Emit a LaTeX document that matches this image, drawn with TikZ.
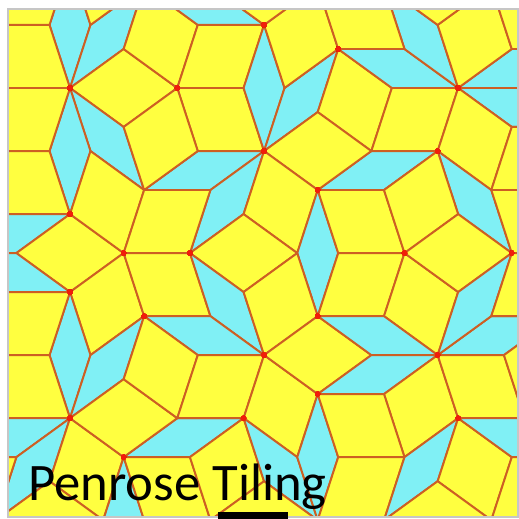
\documentclass[tikz,border=0pt]{standalone}
\usepackage{fontspec}
\newfontfamily\captionfont{Carlito}
\definecolor{tileyellow}{RGB}{255,255,64}
\definecolor{tilecyan}{RGB}{128,240,245}
\definecolor{tileedge}{RGB}{205,95,35}
\definecolor{vertexred}{RGB}{240,30,10}
\tikzset{
    fat tile/.style={fill=tileyellow,draw=tileedge,line width=1.1pt,line join=round},
    thin tile/.style={fill=tilecyan,draw=tileedge,line width=1.1pt,line join=round},
    star point/.style={fill=vertexred},
    caption/.style={anchor=base west,font=\captionfont\fontsize{30}{36}\selectfont}
}
\newcommand{\edgelen}{66.3}
\newcommand{\rhomb}[4]{\filldraw[#1 tile] (#2) -- ++(#3:\edgelen) -- ++(#4:\edgelen) -- ++(#3+180:\edgelen) -- cycle;}

\begin{document}
\begin{tikzpicture}[x=0.02cm,y=0.02cm]
\useasboundingbox (0,0) rectangle (518,-519);
\coordinate (A) at (70,-88);
\path (A) ++(36:\edgelen) coordinate (P) ++(-36:\edgelen) coordinate (Q)
          ++(72:\edgelen) coordinate (W) ++(0:\edgelen) coordinate (B1);
\path (A) ++(-36:\edgelen) coordinate (R);
\path (A) ++(72:\edgelen) coordinate (S);
\path (A) ++(108:\edgelen) coordinate (T);
\path (Q) ++(-72:\edgelen) coordinate (V) ++(0:\edgelen) coordinate (C);
\path (C) ++(36:\edgelen) coordinate (Cb) ++(72:\edgelen) coordinate (D)
          ++(0:\edgelen) coordinate (D0) ++(-36:\edgelen) coordinate (E);
\path (D) ++(-36:\edgelen) coordinate (D9);
\path (E) ++(36:\edgelen) coordinate (E1);
\path (E) ++(108:\edgelen) coordinate (E3);
\path (E) ++(-36:\edgelen) coordinate (E9);
\path (E) ++(-108:\edgelen) coordinate (F) ++(-36:\edgelen) coordinate (F9);
\path (Cb) ++(-36:\edgelen) coordinate (U);
\path (C) ++(-36:\edgelen) coordinate (C9) ++(-72:\edgelen) ++(0:\edgelen) coordinate (I)
          ++(36:\edgelen) ++(-36:\edgelen) coordinate (J);
\path (C) ++(-108:\edgelen) coordinate (C7) ++(-36:\edgelen) coordinate (C79);
\path (C) ++(-144:\edgelen) ++(-108:\edgelen) coordinate (C67);
\path (A) ++(-108:\edgelen) ++(-72:\edgelen) coordinate (G) ++(-36:\edgelen) coordinate (G9)
          ++(-72:\edgelen) coordinate (X0) ++(0:\edgelen) coordinate (X1) ++(-36:\edgelen) coordinate (N);
\path (G) ++(-144:\edgelen) ++(-36:\edgelen) coordinate (H)
          ++(-108:\edgelen) ++(-72:\edgelen) coordinate (K);
\path (K) ++(36:\edgelen) coordinate (K1);
\path (K) ++(-36:\edgelen) coordinate (M) ++(0:\edgelen) coordinate (M0);
\path (K) ++(-144:\edgelen) coordinate (Z);
\path (K) ++(-108:\edgelen) coordinate (K7);
\path (N) ++(180:\edgelen) coordinate (N5);
\path (N) ++(36:\edgelen) coordinate (N1) ++(-36:\edgelen) coordinate (N19);
\path (N) ++(-36:\edgelen) coordinate (N9);
\path (N) ++(-108:\edgelen) coordinate (N7) ++(-72:\edgelen) coordinate (N78);
\path (I) ++(-108:\edgelen) ++(-36:\edgelen) coordinate (Y)
          ++(-72:\edgelen) coordinate (Y8) ++(-144:\edgelen) coordinate (Y86);
\path (Y) ++(0:\edgelen) coordinate (Y0);
\path (Y8) ++(-108:\edgelen) coordinate (Y87);
\path (Y8) ++(-36:\edgelen) coordinate (Y89);

\begin{scope}
\clip (8,-9) rectangle (518,-517);
\foreach \kind/\v/\a/\b in {
    thin/A/72/108, thin/A/36/72, fat/A/108/180, fat/A/-36/36, thin/A/-72/-36,
    thin/A/-108/-72, fat/A/180/-108, fat/P/-36/72, fat/Q/0/72, fat/Q/0/-72,
    thin/C/72/108, thin/C/36/72, fat/Cb/72/-36, thin/D/0/-36, thin/D0/-36/108,
    fat/D/-144/108, fat/D/0/108, thin/E/0/36, thin/E/0/-36, fat/E/36/108,
    fat/D9/0/-108, thin/U/0/-144, fat/E/-36/-108, thin/F/-72/-36, thin/V/0/-144,
    thin/C/-144/-108, fat/R/36/-72, fat/C/36/-36, fat/C/-108/-36, thin/C9/-108/-72,
    fat/C9/-72/0, fat/S/36/108, fat/T/180/72, thin/W/0/144, fat/B1/36/144,
    fat/E3/36/144, fat/E1/0/108, fat/E9/0/-108, fat/F9/0/-72, fat/G/108/180,
    thin/G/180/-144, fat/G/-144/-36, fat/G/-36/72, fat/G9/0/72, fat/G9/-144/-72,
    fat/G9/-72/0, thin/H/144/180, fat/C7/-144/-36, thin/C67/-36/-72, fat/C79/-72/-144,
    thin/X1/180/-36, fat/I/36/108, fat/I/180/-108, fat/I/-108/-36, fat/I/-36/36,
    thin/H/-108/-72, fat/H/180/-108, thin/K/36/72, fat/K/108/180, thin/K/180/-144,
    thin/K/-144/-108, fat/K/-108/-36, thin/M/0/36, fat/M/36/144, thin/M/-108/-72,
    fat/M/-72/0, fat/K1/72/-36, fat/N5/0/-108, fat/N/-108/-36, fat/N/-36/36,
    thin/N1/-36/0, thin/N19/-144/0, thin/Y/0/36, thin/Y/36/72, fat/Y/-144/-72,
    fat/Y/-72/0, fat/J/-108/0, fat/M0/-72/36, thin/N7/-72/-36, fat/N78/-144/-36,
    thin/N9/-108/-72, fat/N9/-72/0, fat/Y86/180/-108, thin/Y8/-144/-108, fat/Y8/-108/-36,
    thin/Y8/-36/0, fat/Y87/-144/-36, fat/Z/180/-108, fat/K7/-144/-36,
    fat/Y0/-72/36, fat/Y89/-108/0}
    \rhomb{\kind}{\v}{\a}{\b}
\foreach \v in {A,Q,B1,C,D,E,F,C9,G,G9,C67,H,X0,N,N1,I,J,K,M,Y,Y8,N9,N7}
    \fill[star point] (\v) circle (2.6);
\end{scope}
\draw[gray!45,line width=0.6pt] (8,-9) rectangle (518,-517);

\node[caption] (title) at (22,-500) {Penrose Tiling};
\fill (218,-512) rectangle (288,-519);
\end{tikzpicture}
\end{document}
